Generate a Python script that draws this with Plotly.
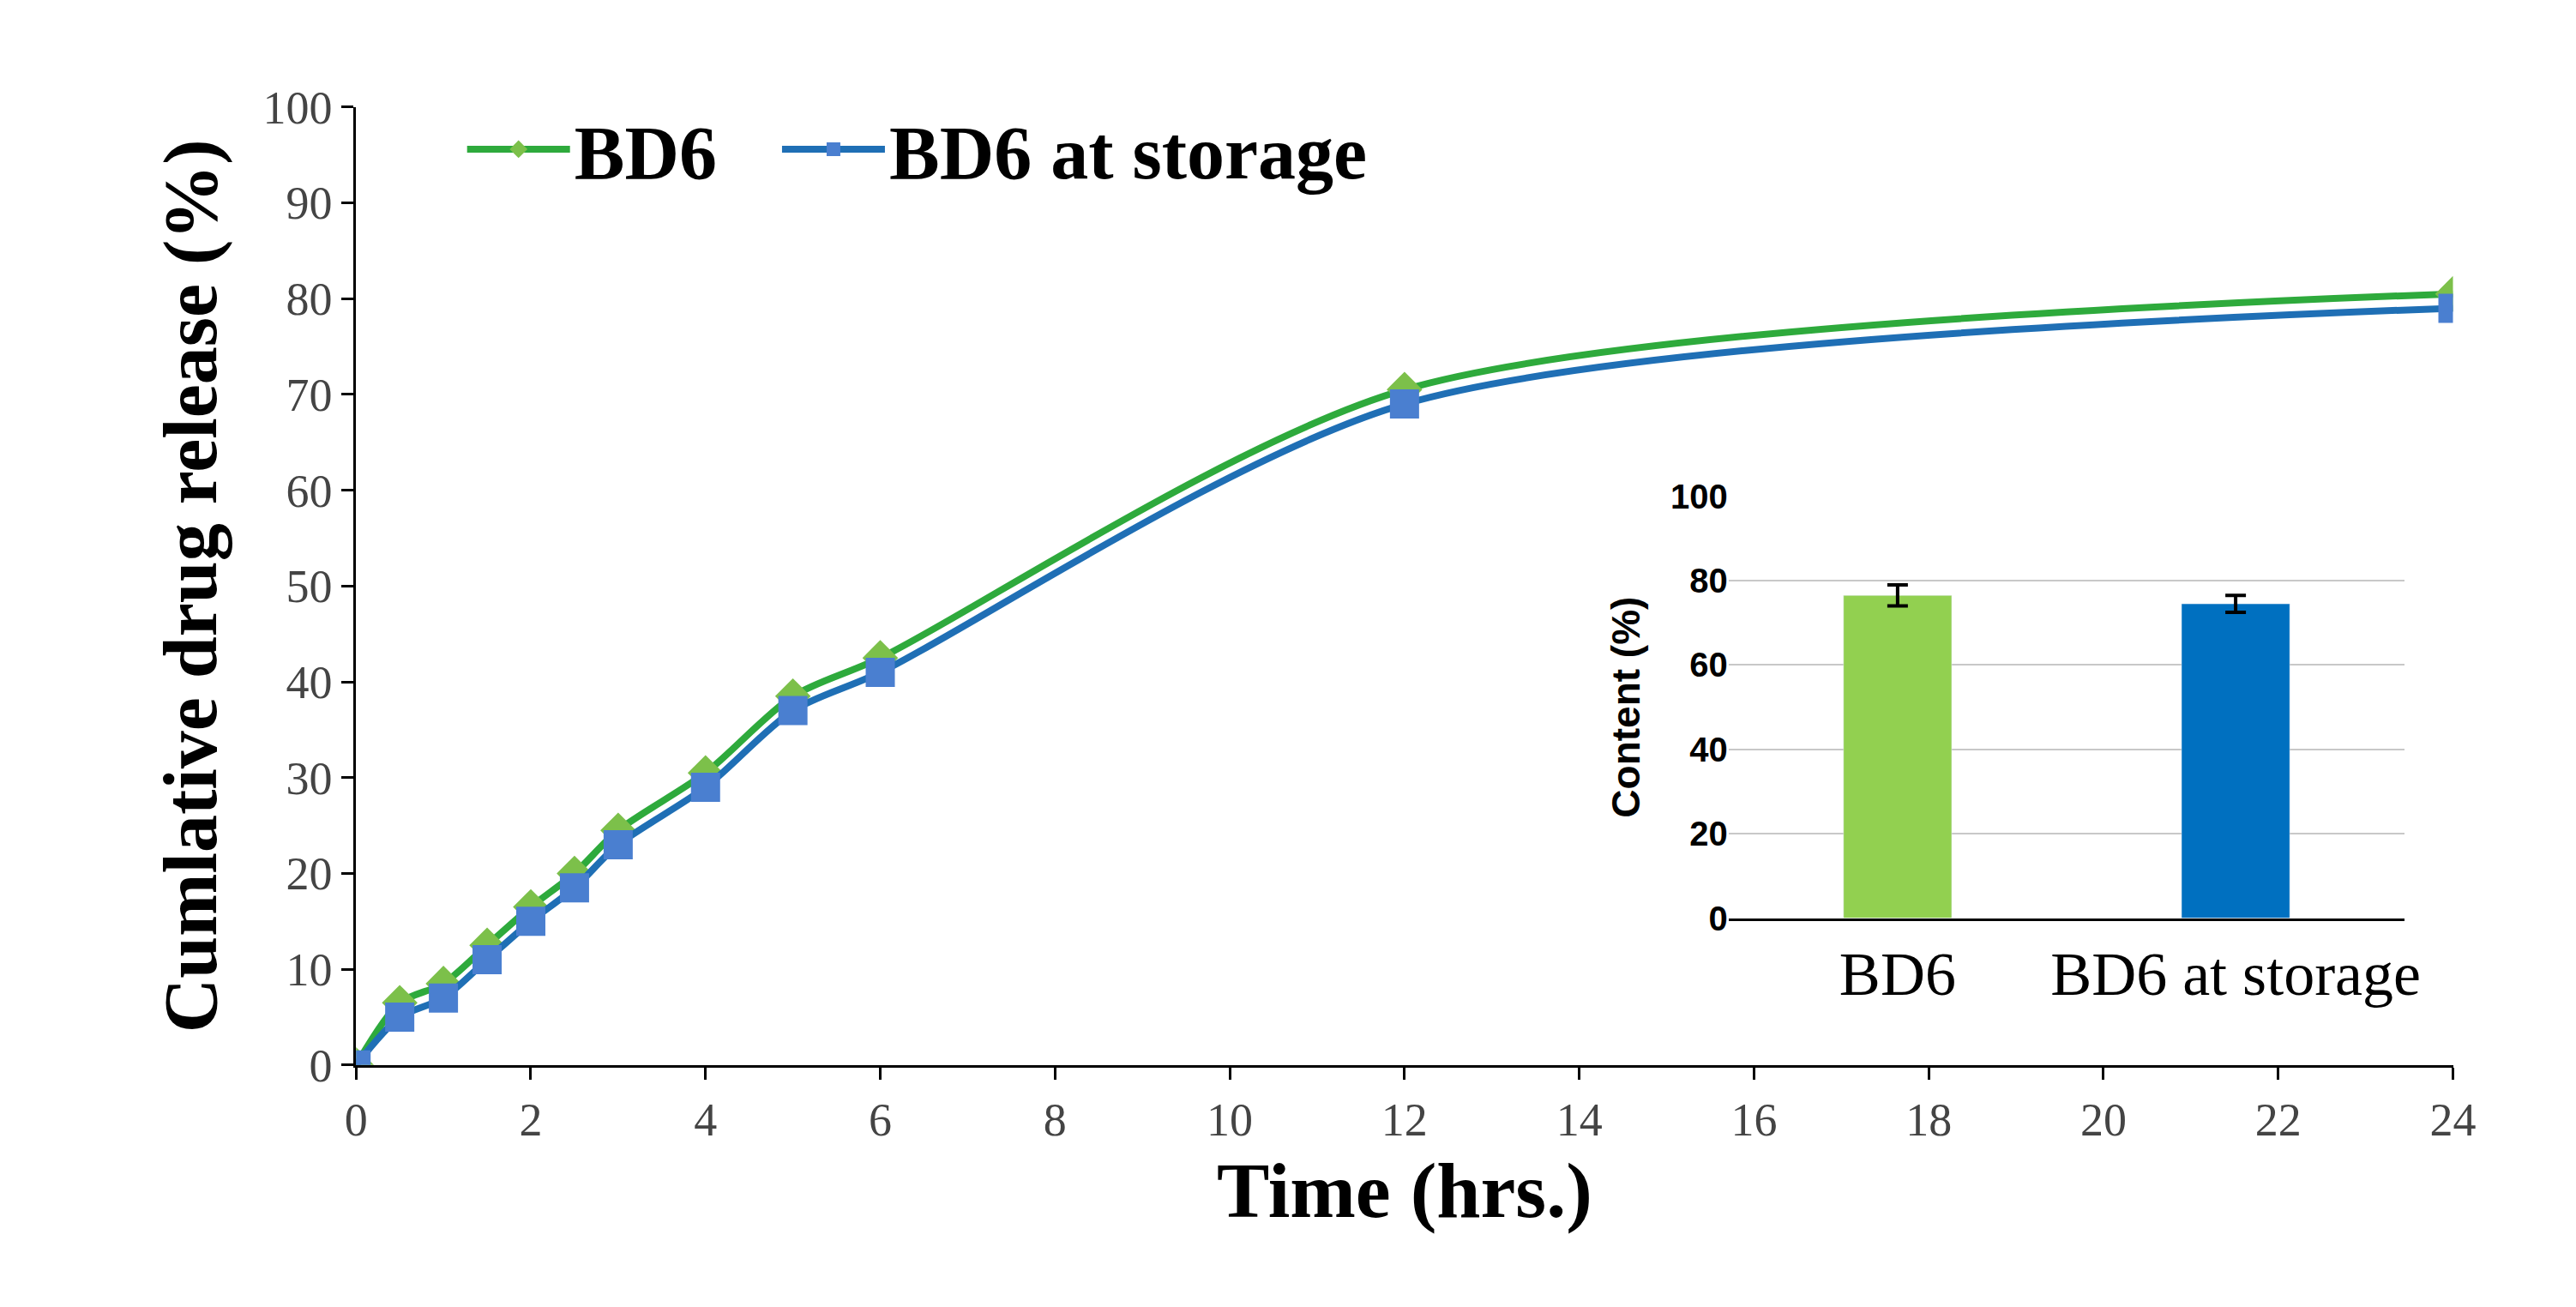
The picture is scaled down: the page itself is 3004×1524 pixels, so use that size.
import plotly.graph_objects as go

time = [0, 0.5, 1, 1.5, 2, 2.5, 3, 4, 5, 6, 12, 24]
bd6 = [0, 6.5, 8.5, 12.5, 16.5, 20, 24.5, 30.5, 38.5, 42.5, 70.5, 80.5]
bd6_storage = [0, 5, 7, 11, 15, 18.5, 23, 29, 37, 41, 69, 79]
inset_cats = ["BD6", "BD6 at storage"]
inset_vals = [76.5, 74.5]
inset_err = [2.5, 2.0]

fig = go.Figure()
fig.add_trace(go.Scatter(x=time, y=bd6, name="BD6   ", mode="lines+markers",
    line=dict(color="#2eaa3c", width=8, shape="spline", smoothing=0.8),
    marker=dict(symbol="diamond", size=32, color="#7cc04a")))
fig.add_trace(go.Scatter(x=time, y=bd6_storage, name="BD6 at storage", mode="lines+markers",
    line=dict(color="#1f6fb5", width=8, shape="spline", smoothing=0.8),
    marker=dict(symbol="square", size=34, color="#4a7fd0")))
fig.add_trace(go.Bar(x=inset_cats, y=inset_vals, xaxis="x2", yaxis="y2", showlegend=False,
    marker=dict(color=["#92d050", "#0070c0"]), width=0.32,
    error_y=dict(type="data", array=inset_err, color="black", thickness=4, width=12)))

tickfont = dict(family="Liberation Serif", size=54, color="#444")
fig.update_layout(
    width=3004, height=1524, paper_bgcolor="white", plot_bgcolor="white",
    margin=dict(l=0, r=0, t=0, b=0),
    xaxis=dict(domain=[0.133, 0.958], range=[0, 24], tickvals=list(range(0, 25, 2)),
               showline=True, linecolor="black", linewidth=3, ticks="outside", ticklen=14,
               tickwidth=3, tickcolor="black", showgrid=False, zeroline=False, tickfont=tickfont,
               title=dict(text="<b>Time (hrs.)</b>", font=dict(family="Liberation Serif", size=92, color="black"), standoff=20)),
    yaxis=dict(domain=[0.177, 0.94], range=[0, 100], dtick=10,
               showline=True, linecolor="black", linewidth=3, ticks="outside", ticklen=14,
               tickwidth=3, tickcolor="black", showgrid=False, zeroline=False, tickfont=tickfont,
               title=dict(text="<b>Cumlative drug release (%)</b>", font=dict(family="Liberation Serif", size=88, color="black"), standoff=25)),
    xaxis2=dict(domain=[0.673, 0.939], anchor="y2", showline=True, linecolor="black", linewidth=3,
                tickfont=dict(family="Liberation Serif", size=72, color="black")),
    yaxis2=dict(domain=[0.294, 0.630], anchor="x2", range=[0, 100], dtick=20,
                showgrid=True, gridcolor="#c8c8c8", gridwidth=2, zeroline=False,
                tickfont=dict(family="Liberation Sans", size=40, color="black", weight="bold"),
                title=dict(text="<b>Content (%)</b>", font=dict(family="Liberation Sans", size=46, color="black"), standoff=20)),
    legend=dict(orientation="h", x=0.175, y=0.95, xanchor="left", yanchor="top",
                font=dict(family="Liberation Serif", size=88, color="black", weight="bold"),
                bgcolor="rgba(0,0,0,0)", itemwidth=120),
)
fig.write_html("out.html")
